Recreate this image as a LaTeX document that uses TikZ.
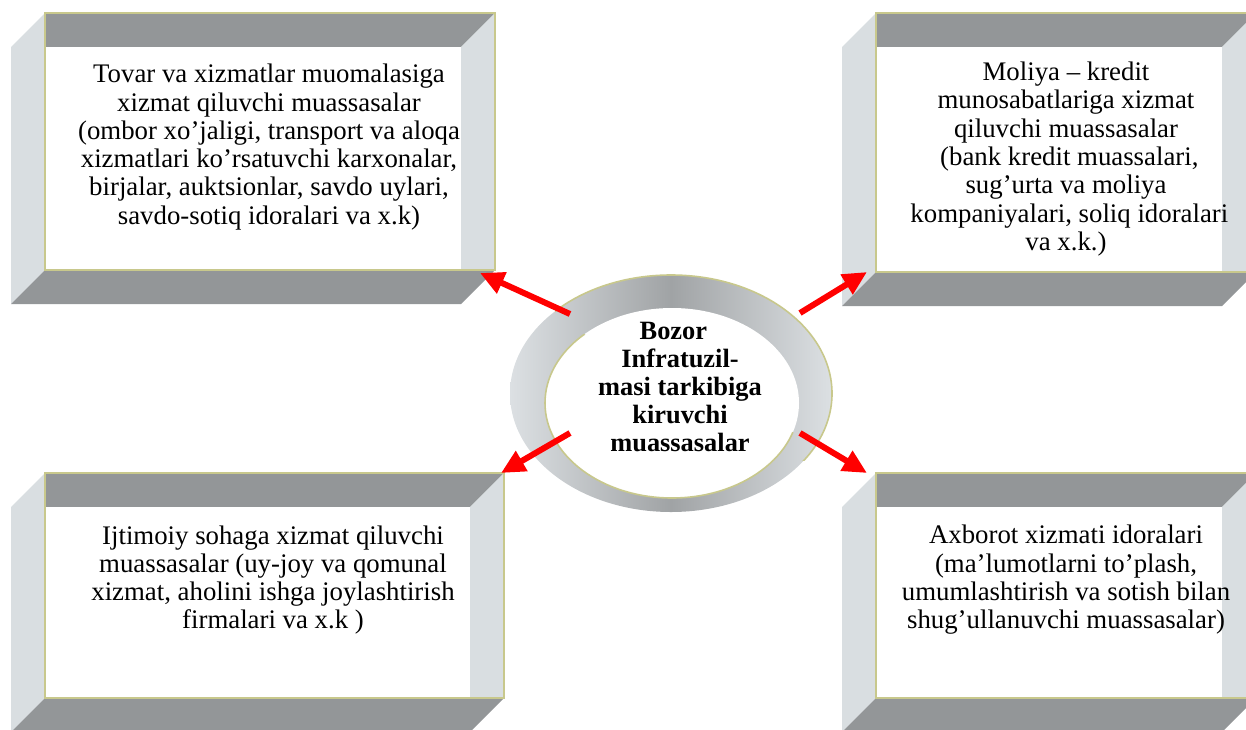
\documentclass[tikz,border=0pt]{standalone}
\usepackage{fontspec}
\setmainfont{Liberation Serif}
\usetikzlibrary{arrows.meta}
\definecolor{bandDark}{HTML}{939698}
\definecolor{sideLight}{HTML}{D9DEE1}
\definecolor{rimLine}{HTML}{C8C88C}
\definecolor{ringLight}{HTML}{DCE0E3}
\definecolor{ringDark}{HTML}{A0A3A5}
\newcommand\bevelbox[4]{% #1 front left x, #2 top y, #3 front right x, #4 front bottom y
  \fill[bandDark] (#1,#2) -- (#3+34,#2) -- (#3,#2+34) -- (#1,#2+34) -- cycle;
  \fill[sideLight] (#1-34,#2+34) -- (#1,#2) -- (#1,#4) -- (#1-34,#4+34) -- cycle;
  \fill[bandDark] (#1-34,#4+34) -- (#1,#4) -- (#3+34,#4) -- (#3,#4+34) -- cycle;
  \fill[sideLight] (#3,#2+34) -- (#3+34,#2) -- (#3+34,#4) -- (#3,#4) -- cycle;
  \fill[white] (#1,#2+34) rectangle (#3,#4);
  \draw[rimLine, line width=1.6] (#1,#2) rectangle (#3+34,#4);
}
\tikzset{
  boxtext/.style={align=center, inner sep=0, font=\fontsize{26.8}{28.3}\selectfont},
  ringtext/.style={align=center, inner sep=0, font=\bfseries\fontsize{26.4}{27.8}\selectfont},
  redarrow/.style={draw=red, line width=6, -{Triangle[length=24,width=22]}},
}
\begin{document}
\begin{tikzpicture}[x=1pt,y=-1pt]
\useasboundingbox (0,0) rectangle (1246,729);
\clip (0,0) rectangle (1246,729);

% boxes
\bevelbox{45}{13}{461}{270}
\bevelbox{876}{13}{1222}{272}
\bevelbox{45}{473}{470}{698}
\bevelbox{876}{473}{1222}{698}

\node[boxtext] (tl) at (269,147) {Tovar va xizmatlar muomalasiga\\xizmat qiluvchi muassasalar\\(ombor xo’jaligi, transport va aloqa\\xizmatlari ko’rsatuvchi karxonalar,\\birjalar, auktsionlar, savdo uylari,\\savdo-sotiq idoralari va x.k)};
\node[boxtext] (tr) at (1066,159) {Moliya – kredit\\munosabatlariga xizmat\\qiluvchi muassasalar\\\ (bank kredit muassalari,\\sug’urta va moliya\\\ kompaniyalari, soliq idoralari\\va x.k.)};
\node[boxtext] (bl) at (273,580) {Ijtimoiy sohaga xizmat qiluvchi\\muassasalar (uy-joy va qomunal\\xizmat, aholini ishga joylashtirish\\firmalari va x.k )};
\node[boxtext] (br) at (1066,580) {Axborot xizmati idoralari\\(ma’lumotlarni to’plash,\\umumlashtirish va sotish bilan\\shug’ullanuvchi muassasalar)};

% ring
\coordinate (ringc) at (671,393.5);
\coordinate (holec) at (672,403);
\shade[left color=ringLight, right color=ringLight, middle color=ringDark]
  (ringc) ellipse [x radius=161pt, y radius=118.5pt];
\begin{scope}
  \clip (555,260) rectangle (900,460);
  \draw[rimLine, line width=1.6] (ringc) ellipse [x radius=161pt, y radius=118.5pt];
\end{scope}
\fill[white] (holec) ellipse [x radius=127pt, y radius=95pt];
\begin{scope}
  \clip (480,325) -- (565,325) -- (820,445) -- (820,560) -- (480,560) -- cycle;
  \draw[rimLine, line width=1.6] (holec) ellipse [x radius=127pt, y radius=95pt];
\end{scope}
\node[ringtext] (center) at (680,387) {Bozor\ \ \ \\Infratuzil-\\masi tarkibiga\\kiruvchi\\muassasalar};

% arrows
\coordinate (a1) at (570,314); \coordinate (h1) at (480,273);
\coordinate (a2) at (800,313); \coordinate (h2) at (867,272);
\coordinate (a3) at (570,433); \coordinate (h3) at (501,473);
\coordinate (a4) at (800,433); \coordinate (h4) at (867,473);
\draw[redarrow] (a1) -- (h1);
\draw[redarrow] (a2) -- (h2);
\draw[redarrow] (a3) -- (h3);
\draw[redarrow] (a4) -- (h4);
\end{tikzpicture}
\end{document}
